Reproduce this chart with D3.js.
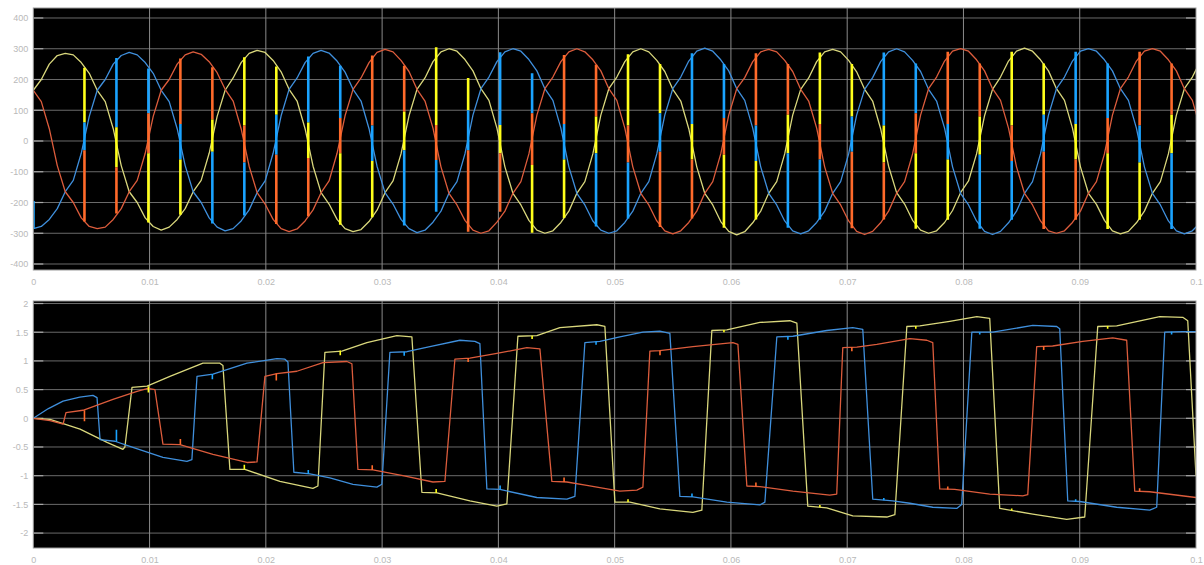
<!DOCTYPE html>
<html>
<head>
<meta charset="utf-8">
<script src="https://cdnjs.cloudflare.com/ajax/libs/d3/7.8.5/d3.min.js"></script>
<style>
    body { margin: 0; background: #fff; }
    .tick text { font-family: "Liberation Sans", Arial, sans-serif; font-size: 9px; fill: #b9b9b9; }
</style>
</head>
<body>
<div id="scope"></div>
<script>

// ---- shared axis data ----
var xTicks = [0, 0.01, 0.02, 0.03, 0.04, 0.05, 0.06, 0.07, 0.08, 0.09, 0.1];
var xTickLabels = ["0", "0.01", "0.02", "0.03", "0.04", "0.05", "0.06", "0.07", "0.08", "0.09", "0.1"];

var topTicks = [400, 300, 200, 100, 0, -100, -200, -300, -400];
var topTickLabels = ["400", "300", "200", "100", "0", "-100", "-200", "-300", "-400"];
var bottomTicks = [2, 1.5, 1, 0.5, 0, -0.5, -1, -1.5, -2];
var bottomTickLabels = ["2", "1.5", "1", "0.5", "0", "-0.5", "-1", "-1.5", "-2"];

// ---- top scope: phase voltages, one sample every topDt seconds ----
var topDt = 0.0006875;

var topYellow = [
    165,200,250,278,285,280,255,220,165,128,40,-80,-165,-200,-250,-278,-290,-280,-255,-220,-165,-128,-40,80,
    165,205,255,285,295,288,262,225,168,130,40,-82,-168,-205,-255,-285,-295,-288,-262,-225,-168,-130,-42,82,
    168,205,258,290,300,292,265,228,170,132,42,-84,-170,-208,-258,-290,-300,-292,-265,-228,-170,-132,-42,84,
    170,208,258,290,300,290,262,226,168,130,40,-84,-170,-208,-262,-294,-305,-295,-266,-228,-170,-132,-42,84,
    168,205,258,290,298,290,262,225,168,130,40,-82,-168,-205,-258,-290,-300,-292,-265,-226,-168,-130,-42,82,
    168,208,260,292,302,292,264,228,170,132,42,-84,-170,-206,-258,-292,-302,-294,-266,-228,-170,-132,-42,84,
    170,208,260
];
var topBlue = [
    -285,-278,-255,-220,-165,-128,-40,80,165,200,250,278,288,280,255,220,165,128,40,-80,-165,-200,-250,-280,
    -292,-285,-260,-224,-168,-130,-40,82,168,205,255,285,295,286,260,224,168,130,40,-82,-168,-205,-255,-285,
    -298,-290,-264,-228,-170,-132,-42,84,170,208,258,290,300,292,265,228,170,132,42,-84,-170,-208,-260,-290,
    -300,-292,-265,-228,-170,-132,-42,84,170,208,260,292,302,292,264,228,170,132,42,-84,-170,-208,-260,-292,
    -302,-292,-265,-228,-170,-132,-42,84,168,206,258,290,300,290,262,226,168,130,42,-84,-170,-208,-260,-294,
    -304,-294,-266,-228,-170,-132,-42,84,170,208,260,292,300,292,264,228,170,132,42,-84,-170,-208,-260,-292,
    -302,-292,-265
];
var topRed = [
    165,128,40,-80,-165,-200,-250,-278,-285,-280,-255,-220,-165,-128,-40,80,165,200,250,280,290,282,258,222,
    168,130,40,-82,-168,-205,-255,-285,-295,-286,-260,-224,-168,-130,-40,82,168,205,255,288,298,290,262,226,
    168,130,42,-84,-170,-208,-258,-290,-300,-292,-264,-228,-170,-132,-42,84,170,208,258,290,300,290,264,228,
    170,132,42,-84,-170,-208,-260,-292,-302,-292,-265,-228,-170,-132,-42,84,170,206,258,290,298,290,262,226,
    168,130,42,-84,-170,-208,-260,-294,-304,-294,-266,-228,-170,-132,-42,84,170,208,260,292,300,292,264,228,
    170,132,42,-84,-170,-208,-260,-292,-300,-292,-265,-228,-170,-132,-42,84,170,208,260,292,300,292,264,228,
    170,132,42
];

// blue start-up jump at t = 0: [time, from, to]
var topStartSpike = [0, -195, -285];

// switching instants (shared by both scopes)
var spikeTimes = [0.0044, 0.00715, 0.0099, 0.01265, 0.0154, 0.01815, 0.0209, 0.02365, 0.0264, 0.02915,
    0.0319, 0.03465, 0.0374, 0.04015, 0.0429, 0.04565, 0.0484, 0.05115, 0.0539, 0.05665,
    0.0594, 0.06215, 0.0649, 0.06765, 0.0704, 0.07315, 0.0759, 0.07865, 0.0814, 0.08415,
    0.0869, 0.08965, 0.0924, 0.09515, 0.0979];

// top spikes: colour order (upper / middle / lower) and the 4 break values
var spikeOrder = ["ybr","byr","bry","rby","ryb","yrb","ybr","byr","bry","rby","ryb","yrb",
    "ybr","byr","bry","rby","ryb","yrb","ybr","byr","bry","rby","ryb","yrb",
    "ybr","byr","bry","rby","ryb","yrb","ybr","byr","bry","rby","ryb"];
var spikeTop = [238,270,236,268,240,272,242,275,245,278,245,305,205,289,220,280,248,282,250,285,250,285,250,288,250,288,252,290,252,290,252,290,252,290,252];
var spikeHi = [60,45,90,55,70,50,85,60,75,50,95,52,100,52,90,55,80,50,90,55,75,50,85,55,80,50,90,55,80,50,85,55,75,50,85];
var spikeLo = [-30,-85,-40,-60,-35,-70,-45,-55,-40,-65,-30,-62,-30,-40,-78,-60,-40,-70,-35,-60,-45,-65,-40,-60,-35,-70,-40,-60,-45,-65,-35,-60,-40,-70,-40];
var spikeBottom = [-262,-236,-265,-240,-268,-242,-270,-245,-272,-248,-275,-230,-295,-230,-298,-250,-278,-252,-280,-252,-282,-255,-282,-255,-284,-255,-285,-256,-285,-256,-286,-256,-286,-256,-286];

// ---- bottom scope: [time, value] ----
var bottomBlue = [[0,0],[0.0013,0.17],[0.00256,0.30],[0.004,0.37],[0.00513,0.40],[0.00548,0.36],[0.00574,-0.37],
    [0.00702,-0.40],[0.00831,-0.49],[0.01115,-0.68],[0.01321,-0.75],[0.01364,-0.72],[0.01408,0.73],[0.01545,0.77],
    [0.01838,0.96],[0.02095,1.04],[0.02164,1.03],[0.0219,0.98],[0.02241,-0.94],[0.02379,-0.97],[0.02551,-1.04],
    [0.02749,-1.15],[0.02955,-1.20],[0.02998,-1.15],[0.03067,1.15],[0.03213,1.16],[0.03411,1.25],[0.03669,1.36],
    [0.03798,1.34],[0.03841,1.30],[0.03901,-1.23],[0.04013,-1.24],[0.04331,-1.38],[0.04589,-1.41],[0.04658,-1.36],
    [0.04744,1.32],[0.04873,1.34],[0.05045,1.42],[0.05243,1.50],[0.05389,1.52],[0.05475,1.48],[0.05561,-1.36],
    [0.05673,-1.37],[0.05965,-1.46],[0.06249,-1.51],[0.06292,-1.46],[0.06395,1.42],[0.06533,1.43],[0.06824,1.53],
    [0.07048,1.58],[0.07134,1.55],[0.0722,-1.41],[0.07392,-1.44],[0.07539,-1.48],[0.07736,-1.55],[0.07942,-1.57],
    [0.07985,-1.50],[0.08072,1.50],[0.08252,1.50],[0.08596,1.62],[0.08802,1.60],[0.08828,1.56],[0.08897,-1.44],
    [0.09,-1.45],[0.09318,-1.55],[0.09602,-1.60],[0.09662,-1.55],[0.09731,1.50],[0.09886,1.51],[0.1,1.51]];

var bottomRed = [[0,0],[0.00144,-0.04],[0.00256,-0.10],[0.00281,0.10],[0.00427,0.14],[0.00685,0.33],[0.00892,0.47],
    [0.00986,0.52],[0.01046,0.50],[0.01115,-0.45],[0.01261,-0.46],[0.01545,-0.63],[0.01838,-0.77],[0.01924,-0.76],
    [0.01992,0.73],[0.02095,0.78],[0.02267,0.82],[0.02491,0.97],[0.02697,0.99],[0.0274,0.95],[0.02792,-0.89],
    [0.02921,-0.90],[0.03179,-1.00],[0.03437,-1.11],[0.0354,-1.10],[0.03626,1.03],[0.03755,1.05],[0.03987,1.13],
    [0.04245,1.23],[0.04357,1.21],[0.0446,-1.10],[0.04589,-1.11],[0.04761,-1.17],[0.05045,-1.27],[0.05191,-1.25],
    [0.05243,-1.20],[0.05303,1.17],[0.05389,1.18],[0.05673,1.25],[0.06017,1.32],[0.0606,1.29],[0.06137,-1.18],
    [0.06249,-1.19],[0.06533,-1.27],[0.0685,-1.34],[0.0691,-1.32],[0.06962,1.23],[0.07083,1.24],[0.07255,1.29],
    [0.07539,1.39],[0.07685,1.36],[0.07736,1.32],[0.07796,-1.23],[0.07925,-1.24],[0.08226,-1.32],[0.0851,-1.35],
    [0.08553,-1.33],[0.0863,1.25],[0.08767,1.26],[0.09026,1.34],[0.09284,1.40],[0.09404,1.36],[0.09473,-1.27],
    [0.09602,-1.28],[0.1,-1.38]];

var bottomYellow = [[0,0],[0.00144,-0.02],[0.00402,-0.19],[0.00634,-0.42],[0.00771,-0.54],[0.00788,-0.50],
    [0.00849,0.54],[0.00978,0.56],[0.01175,0.73],[0.01459,0.96],[0.01605,0.96],[0.01631,0.92],[0.01691,-0.89],
    [0.0182,-0.89],[0.02121,-1.10],[0.02405,-1.22],[0.02448,-1.18],[0.02508,1.15],[0.02654,1.17],[0.02869,1.32],
    [0.03127,1.44],[0.03256,1.42],[0.03342,-1.29],[0.03471,-1.30],[0.03755,-1.44],[0.03987,-1.53],[0.04073,-1.49],
    [0.04168,1.43],[0.04331,1.44],[0.04529,1.58],[0.04847,1.63],[0.04916,1.60],[0.05002,-1.46],[0.05131,-1.46],
    [0.05389,-1.58],[0.05673,-1.64],[0.0575,-1.60],[0.05836,1.53],[0.05965,1.54],[0.06249,1.67],[0.06507,1.70],
    [0.06567,1.66],[0.06661,-1.53],[0.06824,-1.56],[0.07048,-1.70],[0.07341,-1.72],[0.0741,-1.68],[0.07513,1.60],
    [0.07625,1.61],[0.07882,1.69],[0.08115,1.77],[0.08226,1.74],[0.08312,-1.57],[0.08596,-1.67],[0.08888,-1.76],
    [0.09043,-1.72],[0.09155,1.60],[0.09318,1.61],[0.09688,1.77],[0.09886,1.76],[0.09929,1.70],[0.1,-1.0]];

// bottom spikes: which trace, start value, tip value
var bottomSpikeTrace = ["r","b","y","r","b","y","r","b","y","r","b","y","r","b","y","r","b","y",
    "r","b","y","r","b","y","r","b","y","r","b","y","r","b","y","r","b"];
var bottomSpikeFrom = [0.14,-0.41,0.56,-0.46,0.77,-0.89,0.78,-0.97,1.18,-0.90,1.16,-1.30,1.05,-1.24,1.44,-1.11,1.34,-1.46,
    1.18,-1.37,1.54,-1.19,1.43,-1.55,1.24,-1.43,1.61,-1.24,1.50,-1.61,1.26,-1.45,1.61,-1.27,1.51];
var bottomSpikeTo = [-0.05,-0.20,0.45,-0.36,0.68,-0.81,0.66,-0.90,1.10,-0.82,1.09,-1.23,0.98,-1.17,1.38,-1.03,1.28,-1.41,
    1.10,-1.31,1.50,-1.12,1.37,-1.51,1.17,-1.39,1.56,-1.19,1.46,-1.57,1.19,-1.41,1.56,-1.22,1.46];


var traceColors = {y: "#d9d77c", b: "#3f8fdc", r: "#dc5c3c"};
var spikeColors = {y: "#ffff1a", b: "#1aa3ff", r: "#ff6a2a"};

/*
 * one scope panel
 */
ScopePlot = function(_svg, _top, _height, _yDomain, _yTicks, _yLabels, _id){
    this.svg = _svg;
    this.top = _top;
    this.height = _height;
    this.yDomain = _yDomain;
    this.yTicks = _yTicks;
    this.yLabels = _yLabels;
    this.id = _id;
    this.initVis();
}

ScopePlot.prototype.initVis = function() {
    var vis = this;

    vis.left = 33.3;
    vis.width = 1196 - vis.left;

    vis.g = vis.svg.append("g")
        .attr("transform", "translate(" + vis.left + "," + vis.top + ")");

    vis.x = d3.scaleLinear()
        .domain([0, 0.1])
        .range([0, vis.width]);

    vis.y = d3.scaleLinear()
        .domain(vis.yDomain)
        .range([vis.height, 0]);

    vis.g.append("rect")
        .attr("width", vis.width)
        .attr("height", vis.height)
        .attr("fill", "#000");

    // grid
    vis.g.selectAll(".hgrid")
        .data(vis.yTicks)
        .enter()
        .append("line")
        .attr("class", "hgrid")
        .attr("x1", 0).attr("x2", vis.width)
        .attr("y1", function(d) { return vis.y(d); })
        .attr("y2", function(d) { return vis.y(d); })
        .attr("stroke", "#6a6a6a")
        .attr("stroke-width", 1);

    vis.g.selectAll(".vgrid")
        .data(xTicks.slice(1, xTicks.length - 1))
        .enter()
        .append("line")
        .attr("class", "vgrid")
        .attr("y1", 0).attr("y2", vis.height)
        .attr("x1", function(d) { return vis.x(d); })
        .attr("x2", function(d) { return vis.x(d); })
        .attr("stroke", "#8a8a8a")
        .attr("stroke-width", 1);

    // little inside tick marks, left and right
    [0, vis.width - 10].forEach(function(x0) {
        vis.g.selectAll(null)
            .data(vis.yTicks)
            .enter()
            .append("line")
            .attr("x1", x0).attr("x2", x0 + 10)
            .attr("y1", function(d) { return vis.y(d); })
            .attr("y2", function(d) { return vis.y(d); })
            .attr("stroke", "#a8a8a8")
            .attr("stroke-width", 1.2);
    });

    // axes (labels only)
    vis.yAxis = d3.axisLeft(vis.y)
        .tickValues(vis.yTicks)
        .tickSize(0)
        .tickPadding(5)
        .tickFormat(function(d, i) { return vis.yLabels[i]; });

    vis.xAxis = d3.axisBottom(vis.x)
        .tickValues(xTicks)
        .tickSize(0)
        .tickPadding(9)
        .tickFormat(function(d, i) { return xTickLabels[i]; });

    vis.g.append("g")
        .attr("class", "y-axis axis")
        .call(vis.yAxis)
        .select(".domain").remove();

    vis.g.append("g")
        .attr("class", "x-axis axis")
        .attr("transform", "translate(0," + vis.height + ")")
        .call(vis.xAxis)
        .select(".domain").remove();

    vis.g.append("defs").append("clipPath")
        .attr("id", "clip-" + vis.id)
        .append("rect")
        .attr("width", vis.width)
        .attr("height", vis.height);

    vis.plot = vis.g.append("g")
        .attr("clip-path", "url(#clip-" + vis.id + ")");

    vis.line = d3.line()
        .x(function(d) { return vis.x(d[0]); })
        .y(function(d) { return vis.y(d[1]); });

    // frame
    vis.g.append("rect")
        .attr("width", vis.width)
        .attr("height", vis.height)
        .attr("fill", "none")
        .attr("stroke", "#9a9a9a")
        .attr("stroke-width", 1);
}

ScopePlot.prototype.addTrace = function(points, key) {
    var vis = this;
    vis.plot.append("path")
        .datum(points)
        .attr("fill", "none")
        .attr("stroke", traceColors[key])
        .attr("stroke-width", 1.3)
        .attr("stroke-linejoin", "round")
        .attr("d", vis.line);
}

ScopePlot.prototype.addSpike = function(t, v0, v1, key, w) {
    var vis = this;
    vis.plot.append("line")
        .attr("x1", vis.x(t)).attr("x2", vis.x(t))
        .attr("y1", vis.y(v0)).attr("y2", vis.y(v1))
        .attr("stroke", spikeColors[key])
        .attr("stroke-width", w);
}


var svg = d3.select("#scope").append("svg")
    .attr("width", 1204)
    .attr("height", 565)
    .style("display", "block");

svg.append("rect").attr("width", 1204).attr("height", 565).attr("fill", "#fff");

// top panel
var topPlot = new ScopePlot(svg, 8, 262, [-419.5, 432.5], topTicks, topTickLabels, "top");

function withTime(values) {
    return values.map(function(v, i) { return [i * topDt, v]; });
}

topPlot.addTrace(withTime(topYellow), "y");
topPlot.addTrace(withTime(topBlue), "b");
topPlot.addTrace(withTime(topRed), "r");

topPlot.addSpike(topStartSpike[0], topStartSpike[1], topStartSpike[2], "b", 3);

spikeTimes.forEach(function(t, k) {
    var o = spikeOrder[k];
    topPlot.addSpike(t, spikeTop[k], spikeHi[k], o[0], 2.6);
    topPlot.addSpike(t, spikeHi[k], spikeLo[k], o[1], 2.6);
    topPlot.addSpike(t, spikeLo[k], spikeBottom[k], o[2], 2.6);
});

// bottom panel
var bottomPlot = new ScopePlot(svg, 301, 247, [-2.26, 2.044], bottomTicks, bottomTickLabels, "bottom");

bottomPlot.addTrace(bottomYellow, "y");
bottomPlot.addTrace(bottomBlue, "b");
bottomPlot.addTrace(bottomRed, "r");

spikeTimes.forEach(function(t, k) {
    bottomPlot.addSpike(t, bottomSpikeFrom[k], bottomSpikeTo[k], bottomSpikeTrace[k], 1.6);
});

</script>
</body>
</html>
